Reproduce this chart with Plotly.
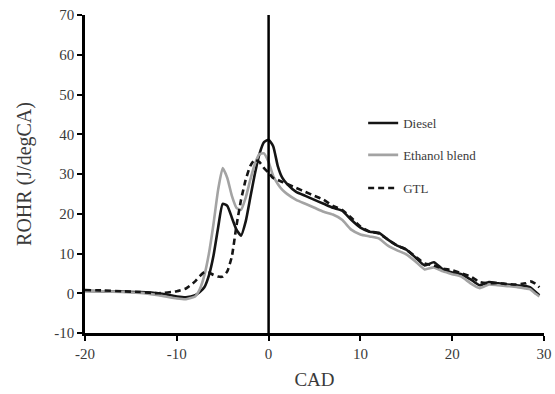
import plotly.graph_objects as go

cad = [-20, -18, -16, -14, -12, -10, -9, -8, -7.5, -7, -6.5, -6, -5.5, -5, -4.5, -4,
       -3.5, -3, -2.5, -2, -1.5, -1, -0.5, 0, 0.5, 1, 1.5, 2, 3, 4, 5, 6, 7, 8, 9, 10,
       11, 12, 13, 14, 15, 16, 17, 18, 19, 20, 21, 22, 23, 24, 25, 26, 27, 28, 28.5,
       29, 29.5]

diesel = [0.6, 0.5, 0.4, 0.3, 0.0, -0.8, -1.0, -0.5, 0.3, 1.5, 4.5, 9.5, 16.5, 22.5, 22,
          19, 16, 14.5, 18, 24, 30, 35, 38, 38.6, 37, 32, 29, 27.5, 25.5, 24.5, 23.5,
          22.5, 21.5, 20.8, 18.5, 16.5, 15.5, 15.2, 13.5, 12, 11, 9, 7, 7.8, 6, 5.2,
          4.8, 3.5, 2, 2.8, 2.5, 2.2, 2, 1.8, 1.5, 0.5, -0.5]

ethanol = [0.6, 0.5, 0.3, 0.1, -0.5, -1.3, -1.5, -0.8, 1, 4.5, 10, 17.5, 26, 31.5, 29,
           24.5, 21.5, 21, 24, 28.5, 32.5, 35, 35.2, 33, 29.5, 27.5, 26, 25, 23.5, 22.5,
           21.5, 20.5, 19.8, 18.5, 16, 14.8, 14.3, 13.8, 12, 10.8, 9.8, 8, 6, 6.5, 5.5,
           4.8, 4.2, 2.5, 1.3, 2.2, 2, 1.8, 1.6, 1.2, 1, 0, -0.8]

gtl = [0.8, 0.7, 0.5, 0.3, 0, 0.5, 1.2, 3, 4.3, 5.3, 5.2, 4.6, 4.2, 4.2, 5.5, 9.3, 17,
       23.5, 28.5, 32, 33.6, 33, 31.5, 30.3, 29, 28.5, 28, 27.5, 26.5, 25.5, 24.5, 23.5,
       22, 21, 19, 16.8, 15.5, 15, 13.5, 12, 11, 9.2, 7.5, 7, 6.2, 5.8, 5, 4.2, 2.8,
       2.5, 2.6, 2.3, 2.2, 2.5, 3, 2.5, 1.5]

x_ticks = [-20, -10, 0, 10, 20, 30]
y_ticks = [-10, 0, 10, 20, 30, 40, 50, 60, 70]

serif = "Liberation Serif, Times New Roman, serif"
txt = "#3a3a3a"

fig = go.Figure()
fig.add_trace(go.Scatter(x=cad, y=diesel, name="Diesel", mode="lines",
                         line=dict(color="#151515", width=2.6, shape="spline", smoothing=0.5),
                         legend="legend"))
fig.add_trace(go.Scatter(x=cad, y=ethanol, name="Ethanol blend", mode="lines",
                         line=dict(color="#a3a3a3", width=2.6, shape="spline", smoothing=0.5),
                         legend="legend2"))
fig.add_trace(go.Scatter(x=cad, y=gtl, name="GTL", mode="lines",
                         line=dict(color="#151515", width=2.6, dash="6px,4px",
                                   shape="spline", smoothing=0.5),
                         legend="legend3"))

fig.add_shape(type="line", xref="x", yref="paper", x0=0, x1=0, y0=0, y1=1,
              line=dict(color="black", width=2.5))

leg_common = dict(xanchor="left", yanchor="middle", bgcolor="rgba(0,0,0,0)",
                  font=dict(family=serif, size=13, color=txt), borderwidth=0)
fig.update_layout(
    width=555, height=394,
    margin=dict(l=85, r=11, t=15, b=61, autoexpand=False),
    paper_bgcolor="white", plot_bgcolor="white",
    showlegend=True,
    legend=dict(x=0.606, y=0.660, **leg_common),
    legend2=dict(x=0.606, y=0.560, **leg_common),
    legend3=dict(x=0.606, y=0.456, **leg_common),
    xaxis=dict(range=[-20, 30], tickvals=x_ticks, ticktext=[str(v) for v in x_ticks],
               automargin=False,
               showgrid=False, zeroline=False, showline=True, linecolor="black",
               linewidth=2.5, ticks="outside", ticklen=5, tickwidth=2, tickcolor="black",
               tickfont=dict(family=serif, size=15, color=txt),
               title=dict(text="CAD", font=dict(family=serif, size=19, color=txt),
                          standoff=12)),
    yaxis=dict(range=[-10, 70], tickvals=y_ticks, ticktext=[str(v) for v in y_ticks],
               automargin=False,
               showgrid=False, zeroline=False, showline=True, linecolor="black",
               linewidth=2.5, ticks="outside", ticklen=5, tickwidth=2, tickcolor="black",
               tickfont=dict(family=serif, size=15, color=txt),
               title=dict(text="ROHR (J/degCA)", font=dict(family=serif, size=20, color=txt),
                          standoff=18)),
)

# remove the browser's default 8px page margin so the figure fills the window exactly
fig.write_html("out.html",
               config={"displayModeBar": False},
               post_script="document.body.style.margin='0px';document.body.style.overflow='hidden';")
